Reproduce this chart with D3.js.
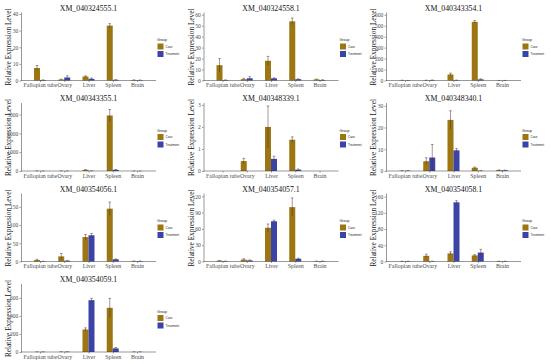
<!DOCTYPE html>
<html>
<head>
<meta charset="utf-8">
<script src="https://cdn.jsdelivr.net/npm/d3@7"></script>
<style>
  html, body { margin: 0; padding: 0; background: #fff; }
  svg { display: block; font-family: "Liberation Serif", "DejaVu Serif", serif; }
</style>
</head>
<body>
<svg id="chart" width="550" height="364"></svg>
<script>
// Data.
const genes = [
  "XM_040324555.1", "XM_040324558.1", "XM_040343354.1",
  "XM_040343355.1", "XM_040348339.1", "XM_040348340.1",
  "XM_040354056.1", "XM_040354057.1", "XM_040354058.1",
  "XM_040354059.1",
];
const tissues = ["Fallopian tube", "Ovary", "Liver", "Spleen", "Brain"];
const groups = ["Case", "Treatment"];

const caseMean = [
  [7.5, 0.6, 2.4, 33, 0.3],
  [14, 1.2, 18, 54, 1],
  [2, 2, 55, 535, 0.5],
  [5, 3, 60, 2950, 2],
  [0, 0.45, 2.0, 1.42, 0],
  [0.1, 4.5, 23.5, 1.5, 0.4],
  [4, 14, 67, 145, 1],
  [1.5, 3.5, 62, 100, 0.5],
  [0.5, 14, 20, 15, 0.5],
  [1, 2, 250, 490, 1],
];
const caseErr = [
  [1.5, 0.2, 0.4, 1.2, 0.1],
  [6, 0.8, 4, 3, 0.3],
  [1, 1, 12, 12, 0.2],
  [2, 1, 15, 320, 1],
  [0, 0.12, 0.95, 0.13, 0],
  [0.1, 1.6, 4.2, 0.3, 0.1],
  [2, 8, 7, 18, 0.5],
  [0.5, 1.5, 7, 17, 0.2],
  [0.3, 4, 4, 2, 0.2],
  [1, 1, 18, 105, 1],
];
const treatMean = [
  [0.3, 1.8, 1.0, 0.4, 0.2],
  [0.4, 2, 2, 1.2, 0.5],
  [0.5, 3, 3, 10, 0.5],
  [1, 1, 8, 60, 1],
  [0, 0, 0.55, 0.06, 0],
  [0.1, 6.2, 9.5, 0.1, 0.3],
  [0.5, 2, 72, 6, 1],
  [0.5, 2, 74, 5, 0.5],
  [0.5, 0.5, 146, 22, 0.5],
  [1, 2, 575, 40, 1],
];
const treatErr = [
  [0.1, 1.0, 0.5, 0.1, 0.1],
  [0.2, 1.5, 0.4, 0.3, 0.2],
  [0.3, 2, 1, 5, 0.2],
  [1, 1, 3, 20, 1],
  [0, 0, 0.12, 0.03, 0],
  [0.1, 6, 0.8, 0.05, 0.1],
  [0.3, 1, 5, 1, 0.3],
  [0.3, 0.8, 2, 1, 0.3],
  [0.3, 0.3, 4, 8, 0.3],
  [1, 1, 20, 10, 1],
];

// Y domain top and tick labels of each panel.
const yTop = [41.2, 62.5, 625, 3640, 3.11, 31.5, 188, 126, 169, 760];
const yTicks = [
  [0, 10, 20, 30, 40],
  [0, 10, 20, 30, 40, 50, 60],
  [0, 100, 200, 300, 400, 500, 600],
  [0, 1000, 2000, 3000],
  [0, 1, 2, 3],
  [0, 10, 20, 30],
  [0, 50, 100, 150],
  [0, 30, 60, 90, 120],
  [0, 40, 80, 120, 160],
  [0, 200, 400, 600],
];

(function () {
  let svg = d3.select("#chart");
  let colors = { Case: "#9c7612", Treatment: "#3b44a6" };
  let barW = 6;

  function drawPanel(i) {
    let col = i % 3,
      row = Math.floor(i / 3),
      ox = col * 182.5,
      oy = row * 90.5;

    let g = svg.append("g").attr("transform", `translate(${ox},${oy})`);

    // Scales for this panel.
    let x = d3.scalePoint().domain(tissues).range([40, 137]);
    let y = d3.scaleLinear().domain([0, yTop[i]]).range([80.5, 12]);

    // Title.
    g.append("text")
      .attr("x", 88.5)
      .attr("y", 10.8)
      .attr("text-anchor", "middle")
      .attr("font-size", "7.8px")
      .attr("fill", "#111")
      .text(genes[i]);

    // Y axis title.
    g.append("text")
      .attr("transform", "translate(11,47) rotate(-90)")
      .attr("text-anchor", "middle")
      .attr("font-size", "7.3px")
      .attr("fill", "#111")
      .text("Relative Expression Level");

    // Bars.
    let rows = tissues.map((t, k) => ({
      tissue: t,
      Case: caseMean[i][k],
      Treatment: treatMean[i][k],
      CaseErr: caseErr[i][k],
      TreatmentErr: treatErr[i][k],
    }));

    groups.forEach((grp, gi) => {
      let off = gi === 0 ? -barW : 0;
      g.selectAll(".bar-" + grp)
        .data(rows)
        .enter()
        .append("rect")
        .attr("x", (d) => x(d.tissue) + off)
        .attr("y", (d) => y(d[grp]))
        .attr("width", barW)
        .attr("height", (d) => y(0) - y(d[grp]))
        .attr("fill", colors[grp]);

      // Error bars.
      let eb = g.selectAll(".err-" + grp)
        .data(rows.filter((d) => d[grp + "Err"] > 0))
        .enter()
        .append("g")
        .attr("stroke", "#4a3328")
        .attr("stroke-width", 0.5);
      let cx = (d) => x(d.tissue) + off + barW / 2;
      eb.append("line")
        .attr("x1", cx).attr("x2", cx)
        .attr("y1", (d) => y(Math.max(0, d[grp] - d[grp + "Err"])))
        .attr("y2", (d) => y(d[grp] + d[grp + "Err"]));
      eb.append("line")
        .attr("x1", (d) => cx(d) - 1.3).attr("x2", (d) => cx(d) + 1.3)
        .attr("y1", (d) => y(d[grp] + d[grp + "Err"]))
        .attr("y2", (d) => y(d[grp] + d[grp + "Err"]));
    });

    // Y axis, plain integer labels.
    let yAxis = g.append("g")
      .attr("transform", "translate(21,0)")
      .call(
        d3.axisLeft(y)
          .tickValues(yTicks[i])
          .tickFormat(d3.format("d"))
          .tickSize(1.5)
          .tickSizeOuter(0)
          .tickPadding(1.2)
      );
    yAxis.select(".domain").attr("stroke", "#333").attr("stroke-width", 0.5);
    yAxis.selectAll(".tick line").attr("stroke", "#333").attr("stroke-width", 0.5);
    yAxis.selectAll(".tick text")
      .attr("font-family", "Liberation Serif, serif")
      .attr("font-size", "5.6px")
      .attr("fill", "#4d4d4d");

    // X axis.
    let xAxis = g.append("g")
      .attr("transform", `translate(0,${y(0)})`)
      .call(d3.axisBottom(x).tickSize(1.5).tickSizeOuter(0).tickPadding(1.2));
    xAxis.select(".domain")
      .attr("d", `M21,0H156`)
      .attr("stroke", "#333")
      .attr("stroke-width", 0.5);
    xAxis.selectAll(".tick line").attr("stroke", "#333").attr("stroke-width", 0.5);
    xAxis.selectAll(".tick text")
      .attr("font-family", "Liberation Serif, serif")
      .attr("font-size", "5.9px")
      .attr("fill", "#4d4d4d");

    // Legend.
    let lg = g.append("g").attr("transform", "translate(157,38)");
    lg.append("text")
      .attr("x", 0).attr("y", 3)
      .attr("font-family", "Liberation Sans, sans-serif")
      .attr("font-size", "3.6px")
      .attr("fill", "#222")
      .text("Group");
    groups.forEach((grp, gi) => {
      lg.append("rect")
        .attr("x", 0.5)
        .attr("y", 5.5 + gi * 7.5)
        .attr("width", 6)
        .attr("height", 6)
        .attr("fill", colors[grp]);
      lg.append("text")
        .attr("x", 8.5)
        .attr("y", 9.8 + gi * 7.5)
        .attr("font-family", "Liberation Sans, sans-serif")
        .attr("font-size", "3px")
        .attr("fill", "#222")
        .text(grp);
    });
  }

  genes.forEach((gene, i) => drawPanel(i));
})();
</script>
</body>
</html>
